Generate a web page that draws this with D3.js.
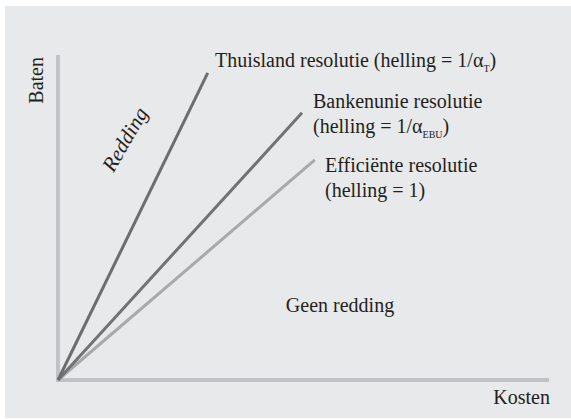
<!DOCTYPE html>
<html>
<head>
<meta charset="utf-8">
<script src="https://cdn.jsdelivr.net/npm/d3@7"></script>
<style>
  html, body { margin: 0; padding: 0; background: #fff; }
  svg { display: block; }
  text { font-family: "Liberation Serif", "DejaVu Serif", serif; fill: #231f20; }
</style>
</head>
<body>
<svg width="571" height="419"></svg>
<script>
// conceptual chart: costs (x) against benefits (y), three rays from the origin
var seriesNames = ['Thuisland', 'Bankenunie', 'Efficiënte'];
var seriesEndX = [3.05, 4.97, 5.23];
var seriesEndY = [9.45, 8.22, 6.77];
var xDomain = [0, 10];
var yDomain = [0, 10];
var axisLabels = ['Kosten', 'Baten'];
var regionLabels = ['Redding', 'Geen redding'];

var colors = ['#6c6d6f', '#717274', '#a8a9ab'];

function drawChart() {
  'use strict';
  var svg = d3.select('svg');
  var margin = {top: 55, left: 58, right: 22, bottom: 39};
  var w = 571, h = 419;
  var width = w - margin.left - margin.right;
  var height = h - margin.top - margin.bottom;

  svg.append('rect')
    .attr('x', 5).attr('y', 6)
    .attr('width', w - 5).attr('height', h - 7)
    .style('fill', '#e8e9eb');

  var x = d3.scaleLinear().domain(xDomain).range([0, width]);
  var y = d3.scaleLinear().domain(yDomain).range([height, 0]);

  var g = svg.append('g')
    .attr('transform', 'translate(' + [margin.left, margin.top] + ')');

  // axes as plain thick bars, no ticks
  g.append('line')
    .attr('x1', x(0)).attr('y1', y(0) + 2)
    .attr('x2', x(0)).attr('y2', y(yDomain[1]))
    .style('stroke', '#c1c2c5').style('stroke-width', '4px');
  g.append('line')
    .attr('x1', x(0) - 2).attr('y1', y(0))
    .attr('x2', x(xDomain[1])).attr('y2', y(0))
    .style('stroke', '#c1c2c5').style('stroke-width', '4px');

  var rays = seriesNames.map(function (n, i) {
    return {name: n, pts: [[0, 0], [seriesEndX[i], seriesEndY[i]]], color: colors[i]};
  });
  var line = d3.line()
    .x(function (d) { return x(d[0]); })
    .y(function (d) { return y(d[1]); });

  g.selectAll('.ray').data(rays.slice().reverse())
    .enter().append('path')
    .attr('class', 'ray')
    .attr('d', function (d) { return line(d.pts); })
    .style('stroke', function (d) { return d.color; })
    .style('stroke-width', '3px')
    .style('fill', 'none');

  var fs = 20;

  // label helper: main text plus optional subscript and trailing text
  function label(px, py, parts) {
    var t = svg.append('text')
      .attr('x', px).attr('y', py)
      .style('font-size', fs + 'px');
    parts.forEach(function (p) {
      var s = t.append('tspan').text(p.t);
      if (p.sub) {
        s.attr('dy', 5).style('font-size', '10px');
      } else if (p.after) {
        s.attr('dy', -5);
      }
    });
    return t;
  }

  label(215, 67, [{t: 'Thuisland resolutie (helling = 1/α'}, {t: 'T', sub: true}, {t: ')', after: true}]);
  label(313, 108, [{t: 'Bankenunie resolutie'}]);
  label(313, 133, [{t: '(helling = 1/α'}, {t: 'EBU', sub: true}, {t: ')', after: true}]);
  label(325, 172, [{t: 'Efficiënte resolutie'}]);
  label(325, 197, [{t: '(helling = 1)'}]);

  svg.append('text')
    .attr('x', margin.left + x(xDomain[1]) + 1)
    .attr('y', 404)
    .attr('text-anchor', 'end')
    .style('font-size', fs + 'px')
    .text(axisLabels[0]);

  svg.append('text')
    .attr('transform', 'translate(43,' + (margin.top + 2) + ') rotate(-90)')
    .attr('text-anchor', 'end')
    .style('font-size', fs + 'px')
    .text(axisLabels[1]);

  svg.append('text')
    .attr('transform', 'translate(131,143) rotate(-60)')
    .attr('text-anchor', 'middle')
    .style('font-size', '21px')
    .style('font-style', 'italic')
    .text(regionLabels[0]);

  svg.append('text')
    .attr('x', 340).attr('y', 312)
    .attr('text-anchor', 'middle')
    .style('font-size', fs + 'px')
    .text(regionLabels[1]);
}

drawChart();
</script>
</body>
</html>
